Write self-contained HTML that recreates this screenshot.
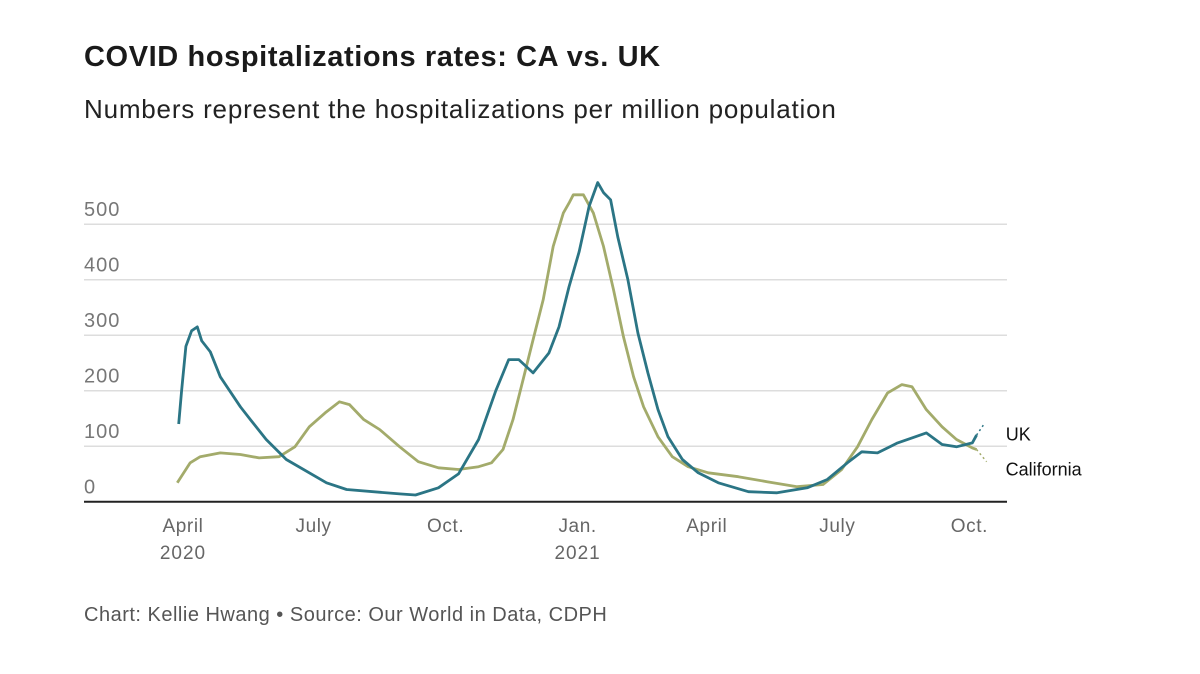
<!DOCTYPE html>
<html><head><meta charset="utf-8"><style>
body{margin:0;background:#fff;width:1200px;height:674px;overflow:hidden;font-family:"Liberation Sans",sans-serif}
.t{position:absolute;left:84px;top:41px;font-size:29px;font-weight:bold;color:#1a1a1a;letter-spacing:0.6px}
.s{position:absolute;left:84px;top:94px;font-size:26px;color:#222;letter-spacing:0.8px}
.f{position:absolute;left:84px;top:604px;font-size:20px;color:#555;letter-spacing:0.5px}
</style></head><body>
<div class="t">COVID hospitalizations rates: CA vs. UK</div>
<div class="s">Numbers represent the hospitalizations per million population</div>
<svg id="c" width="1200" height="674" style="position:absolute;left:0;top:0"></svg>
<div class="f">Chart: Kellie Hwang • Source: Our World in Data, CDPH</div>
<script>
const yTicks=[0,100,200,300,400,500];
const xTickDays=[0,91,183,275,365,456,548];
const xTickLabels=["April","July","Oct.","Jan.","April","July","Oct."];
const xTickYears=["2020","","","2021","","",""];
const ukDays=[-3,-1,2,6,10,13,19,26,40,47,58,72,100,114,151,162,178,192,206,218,227,234,244,255,262,269,276,283,289,293,298,303,310,317,324,331,338,348,359,373,394,414,435,449,463,473,484,498,508,518,529,539,550,553,558];
const ukVals=[140,200,280,308,315,290,270,225,171,148,112,76,34,22,14,12,25,50,112,200,256,256,232,268,315,387,450,532,575,557,544,477,400,304,232,166,117,76,52,34,18,16,25,40,70,90,88,106,115,124,103,99,106,120,139];
const caDays=[-4,5,12,26,40,53,67,78,88,99,109,116,126,137,151,164,178,192,206,215,223,230,237,244,251,258,265,269,272,279,286,293,300,307,314,321,331,341,352,366,387,407,428,446,459,470,480,491,501,508,518,529,539,550,553,560];
const caVals=[34,70,81,88,85,79,81,99,135,160,180,175,148,130,99,72,61,58,63,70,94,148,220,292,364,460,520,538,553,553,520,460,382,297,225,171,117,81,63,52,45,36,27,31,58,99,148,196,211,207,166,135,112,97,94,72];
const X=d=>183+d*1.435, Y=v=>501.7-v*0.555;
const svg=document.getElementById('c'),NS='http://www.w3.org/2000/svg';
function mk(tag,attrs,txt){const e=document.createElementNS(NS,tag);for(const k in attrs)e.setAttribute(k,attrs[k]);if(txt!=null)e.textContent=txt;svg.appendChild(e);return e;}
yTicks.forEach(v=>{
 if(v>0){const g=mk('line',{x1:84,x2:1007,y1:Y(v),y2:Y(v),stroke:'#ddd','stroke-width':1.5});
 
 }
 const t=mk('text',{x:84,y:Y(v)-8,'font-size':20,fill:'#777','letter-spacing':1,'font-family':'Liberation Sans'},v);
 
 
});
const ax=mk('line',{x1:84,x2:1007,y1:501.7,y2:501.7,stroke:'#222','stroke-width':2});


xTickDays.forEach((d,i)=>{
 const t=mk('text',{x:X(d),y:532,'font-size':19,fill:'#666','text-anchor':'middle','letter-spacing':0.6,'font-family':'Liberation Sans'},xTickLabels[i]);
 
 
 if(xTickYears[i]){const y=mk('text',{x:X(d),y:559,'font-size':19,fill:'#666','text-anchor':'middle','letter-spacing':1,'font-family':'Liberation Sans'},xTickYears[i]);
 
 }
});
function series(days,vals,color,name){
 const n=days.length;
 let p=days.slice(0,n-1).map((d,i)=>(i?'L':'M')+X(d).toFixed(1)+','+Y(vals[i]).toFixed(1)).join('');
 const l=mk('path',{d:p,fill:'none',stroke:color,'stroke-width':2.8,'stroke-linejoin':'round'});
 
 
 const dsh=mk('line',{x1:X(days[n-2]),y1:Y(vals[n-2]),x2:X(days[n-1]),y2:Y(vals[n-1]),stroke:color,'stroke-width':1.5,'stroke-dasharray':'2,3'});
 
 
 return [X(days[n-1]),Y(vals[n-1])];
}
const c=series(caDays,caVals,'#a3ab6b','california');
const u=series(ukDays,ukVals,'#2b7585','uk');
const lu=mk('text',{x:u[0]+22,y:u[1]+16,'font-size':18,fill:'#111','font-family':'Liberation Sans'},'UK');


const lc=mk('text',{x:c[0]+19,y:c[1]+14,'font-size':18,fill:'#111','font-family':'Liberation Sans'},'California');


</script>
</body></html>
